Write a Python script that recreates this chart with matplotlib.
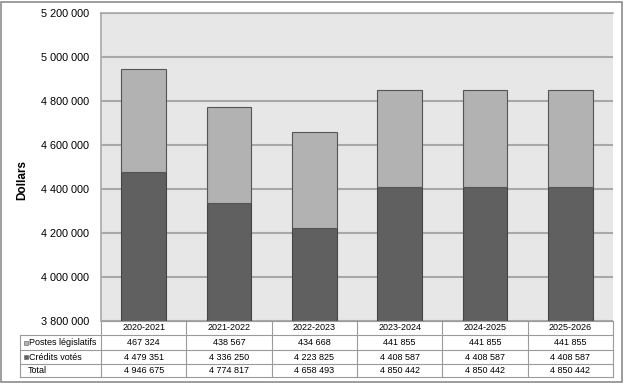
import matplotlib.pyplot as plt
from matplotlib.lines import Line2D
from matplotlib.patches import Rectangle
from matplotlib.ticker import FuncFormatter

annees = ["2020-2021", "2021-2022", "2022-2023", "2023-2024", "2024-2025", "2025-2026"]
postes_legislatifs = [467324, 438567, 434668, 441855, 441855, 441855]
credits_votes = [4479351, 4336250, 4223825, 4408587, 4408587, 4408587]
totaux = [4946675, 4774817, 4658493, 4850442, 4850442, 4850442]
y_ticks = [3800000, 4000000, 4200000, 4400000, 4600000, 4800000, 5000000, 5200000]

col_fonce = "#606060"
col_clair = "#b2b2b2"
col_grille = "#a8a8a8"

plt.rcParams['font.family'] = ['Liberation Sans', 'DejaVu Sans']


def fmt(v):
    return f"{int(v):,}".replace(",", " ")


W, H = 624, 383
fig = plt.figure(figsize=(W / 100, H / 100), dpi=100)

# zone du graphique (pixels)
x0, x1 = 101, 613
y_top, y_bas = 13, 321
ax = fig.add_axes([x0 / W, 1 - y_bas / H, (x1 - x0) / W, (y_bas - y_top) / H])
ax.set_facecolor("#e7e7e7")

x = list(range(len(annees)))
ax.bar(x, credits_votes, width=0.52, color=col_fonce, edgecolor="#454545", linewidth=0.8, zorder=3)
ax.bar(x, postes_legislatifs, bottom=credits_votes, width=0.52, color=col_clair,
       edgecolor="#555555", linewidth=0.8, zorder=3)

ax.set_xlim(-0.5, len(annees) - 0.5)
ax.set_ylim(y_ticks[0], y_ticks[-1])
ax.set_yticks(y_ticks)
ax.yaxis.set_major_formatter(FuncFormatter(lambda v, p: fmt(v)))
ax.tick_params(axis="y", length=0, labelsize=7.8, pad=8.5)
ax.set_xticks([])
ax.grid(axis="y", color=col_grille, linewidth=1.5, zorder=1)
for s in ["right", "bottom"]:
    ax.spines[s].set_visible(False)
for s in ["left", "top"]:
    ax.spines[s].set_color(col_grille)
    ax.spines[s].set_linewidth(1.2)
fig.text(22 / W, 1 - 180 / H, "Dollars", rotation=90, ha="center", va="center",
         fontsize=8.5, fontweight="bold")

# tableau sous le graphique
lignes_y = [321, 335, 350, 364, 377]
col_w = (x1 - x0) / len(annees)
lab_x = 20
lc = "#9a9a9a"
fs_tab = 6.5


def fx(px):
    return px / W


def fy(py):
    return 1 - py / H


# lignes horizontales
fig.add_artist(Line2D([fx(x0), fx(x1)], [fy(lignes_y[0])] * 2, color=lc, lw=0.8))
for yy in lignes_y[1:]:
    fig.add_artist(Line2D([fx(lab_x), fx(x1)], [fy(yy)] * 2, color=lc, lw=0.8))
# lignes verticales
for i in range(len(annees) + 1):
    xx = x0 + i * col_w
    fig.add_artist(Line2D([fx(xx)] * 2, [fy(lignes_y[0]), fy(lignes_y[-1])], color=lc, lw=0.8))
fig.add_artist(Line2D([fx(lab_x)] * 2, [fy(lignes_y[1]), fy(lignes_y[-1])], color=lc, lw=0.8))

lignes = [("Postes législatifs", postes_legislatifs, col_clair),
          ("Crédits votés", credits_votes, col_fonce),
          ("Total", totaux, None)]

for i, an in enumerate(annees):
    cx = x0 + (i + 0.5) * col_w
    fig.text(fx(cx), fy((lignes_y[0] + lignes_y[1]) / 2), an, ha="center", va="center", fontsize=fs_tab)

for r, (nom, vals, couleur) in enumerate(lignes):
    cy = (lignes_y[r + 1] + lignes_y[r + 2]) / 2
    if couleur is not None:
        fig.add_artist(Rectangle((fx(lab_x + 4), fy(cy + 2)), 4 / W, 4 / H, facecolor=couleur,
                                 edgecolor="#707070", lw=0.5))
        fig.text(fx(lab_x + 9), fy(cy), nom, ha="left", va="center", fontsize=fs_tab)
    else:
        fig.text(fx(lab_x + 8), fy(cy), nom, ha="left", va="center", fontsize=fs_tab)
    for i, v in enumerate(vals):
        cx = x0 + (i + 0.5) * col_w
        fig.text(fx(cx), fy(cy), fmt(v), ha="center", va="center", fontsize=fs_tab)

# cadre extérieur
fig.add_artist(Rectangle((1 / W, 1 / H), (W - 3) / W, (H - 3) / H, fill=False,
                         edgecolor="#8c8c8c", lw=1.2))

fig.savefig("out.png", dpi=100)
